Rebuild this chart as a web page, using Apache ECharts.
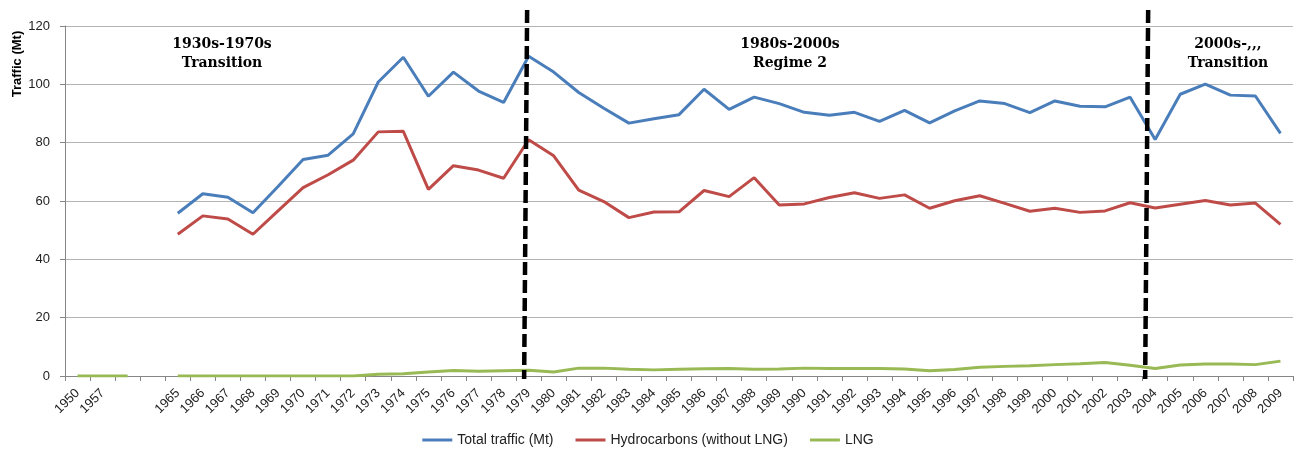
<!DOCTYPE html>
<html>
<head>
<meta charset="utf-8">
<script src="https://cdn.jsdelivr.net/npm/echarts@6/dist/echarts.min.js"></script>
<style>html,body{margin:0;padding:0;background:#fff}#chart{width:1296px;height:453px}</style>
</head>
<body>
<div id="chart"></div>
<script>
var years = ['1950', '1957', '', ' ', '1965', '1966', '1967', '1968', '1969', '1970', '1971', '1972', '1973', '1974', '1975', '1976', '1977', '1978', '1979', '1980', '1981', '1982', '1983', '1984', '1985', '1986', '1987', '1988', '1989', '1990', '1991', '1992', '1993', '1994', '1995', '1996', '1997', '1998', '1999', '2000', '2001', '2002', '2003', '2004', '2005', '2006', '2007', '2008', '2009']
var totalTraffic = [null, null, null, null, 55.8, 62.5, 61.3, 56.0, 65.0, 74.2, 75.7, 83.0, 100.8, 109.3, 95.9, 104.2, 97.7, 93.8, 109.6, 104.2, 97.2, 91.8, 86.7, 88.2, 89.6, 98.3, 91.4, 95.6, 93.4, 90.4, 89.4, 90.4, 87.3, 91.1, 86.8, 90.9, 94.3, 93.4, 90.3, 94.3, 92.5, 92.3, 95.6, 81.1, 96.6, 100.1, 96.3, 96.0, 83.2]
var hydrocarbons = [null, null, null, null, 48.6, 54.9, 53.8, 48.6, 56.6, 64.6, 69.0, 74.0, 83.7, 83.9, 64.0, 72.1, 70.6, 67.8, 81.0, 75.5, 63.7, 59.8, 54.3, 56.2, 56.3, 63.6, 61.5, 68.0, 58.6, 59.0, 61.2, 62.8, 60.9, 62.1, 57.5, 60.1, 61.8, 59.2, 56.5, 57.5, 56.1, 56.6, 59.4, 57.6, 58.9, 60.2, 58.6, 59.3, 52.0]
var lng = [0, 0, 0, null, 0, 0, 0, 0, 0, 0, 0, 0, 0.6, 0.8, 1.4, 1.9, 1.6, 1.8, 2.0, 1.4, 2.7, 2.7, 2.3, 2.1, 2.3, 2.5, 2.6, 2.3, 2.4, 2.7, 2.6, 2.6, 2.6, 2.4, 1.8, 2.2, 3.0, 3.3, 3.5, 3.9, 4.2, 4.6, 3.7, 2.6, 3.8, 4.1, 4.1, 3.9, 5.1]
var seriesNames = ['Total traffic (Mt)', 'Hydrocarbons (without LNG)', 'LNG']
var regimeBreaks = ['1979', '2004']

var labelFont = 'Liberation Sans'
var titleFont = 'DejaVu Serif'

var myChart = echarts.init(document.getElementById('chart'))

function line(name, data, color) {
	return {
		name: name,
		type: 'line',
		data: data,
		symbol: 'none',
		connectNulls: false,
		animation: false,
		lineStyle: { width: 3, color: color },
		itemStyle: { color: color }
	}
}

var options = {
	animation: false,
	grid: { left: 65, right: 3, top: 26, bottom: 77 },
	legend: {
		top: 428,
		left: 'center',
		icon: 'rect',
		itemWidth: 30,
		itemHeight: 3,
		itemGap: 22,
		textStyle: { fontFamily: labelFont, fontSize: 14, color: '#222' },
		data: seriesNames
	},
	xAxis: {
		type: 'category',
		data: years,
		boundaryGap: true,
		axisLine: { lineStyle: { color: '#868686', width: 1 } },
		axisTick: { show: true, length: 5, interval: 0, lineStyle: { color: '#868686' } },
		axisLabel: { interval: 0, rotate: 45, margin: 15, fontFamily: labelFont, fontSize: 13, color: '#222' }
	},
	yAxis: {
		type: 'value',
		min: 0,
		max: 120,
		interval: 20,
		axisLine: { show: true, lineStyle: { color: '#868686', width: 1 } },
		axisTick: { show: true, length: 5, lineStyle: { color: '#868686' } },
		axisLabel: { margin: 15, fontFamily: labelFont, fontSize: 13, color: '#222' },
		splitLine: { lineStyle: { color: '#b3b3b3', width: 1 } }
	},
	series: [
		line(seriesNames[0], totalTraffic, '#4a7ebb'),
		line(seriesNames[1], hydrocarbons, '#be4b48'),
		line(seriesNames[2], lng, '#98b954')
	]
}
myChart.setOption(options)

// regime break lines and period labels
var shifts = [[-1.5, -4.5], [-7, -10]]
var graphics = regimeBreaks.map(function (y, i) {
	var px = myChart.convertToPixel({ xAxisIndex: 0 }, years.indexOf(y))
	return {
		type: 'line',
		z: 100,
		shape: { x1: px + shifts[i][0], y1: 10, x2: px + shifts[i][1], y2: 379 },
		style: { stroke: '#000', lineWidth: 4.5, lineDash: [13, 5] }
	}
})
var periods = [
	{ text: '1930s-1970s\nTransition', x: 222 },
	{ text: '1980s-2000s\nRegime 2', x: 790 },
	{ text: '2000s-,,,\nTransition', x: 1228 }
]
periods.forEach(function (p) {
	graphics.push({
		type: 'text',
		z: 100,
		x: p.x,
		y: 35,
		style: {
			text: p.text,
			align: 'center',
			verticalAlign: 'top',
			fontFamily: titleFont,
			fontWeight: 'bold',
			fontSize: 14,
			lineHeight: 19,
			fill: '#000'
		}
	})
})
graphics.push({
	type: 'text',
	x: 17,
	y: 64,
	rotation: Math.PI / 2,
	style: {
		text: 'Traffic (Mt)',
		align: 'center',
		verticalAlign: 'middle',
		fontFamily: labelFont,
		fontWeight: 'bold',
		fontSize: 13,
		fill: '#000'
	}
})
myChart.setOption({ graphic: graphics })
</script>
</body>
</html>
